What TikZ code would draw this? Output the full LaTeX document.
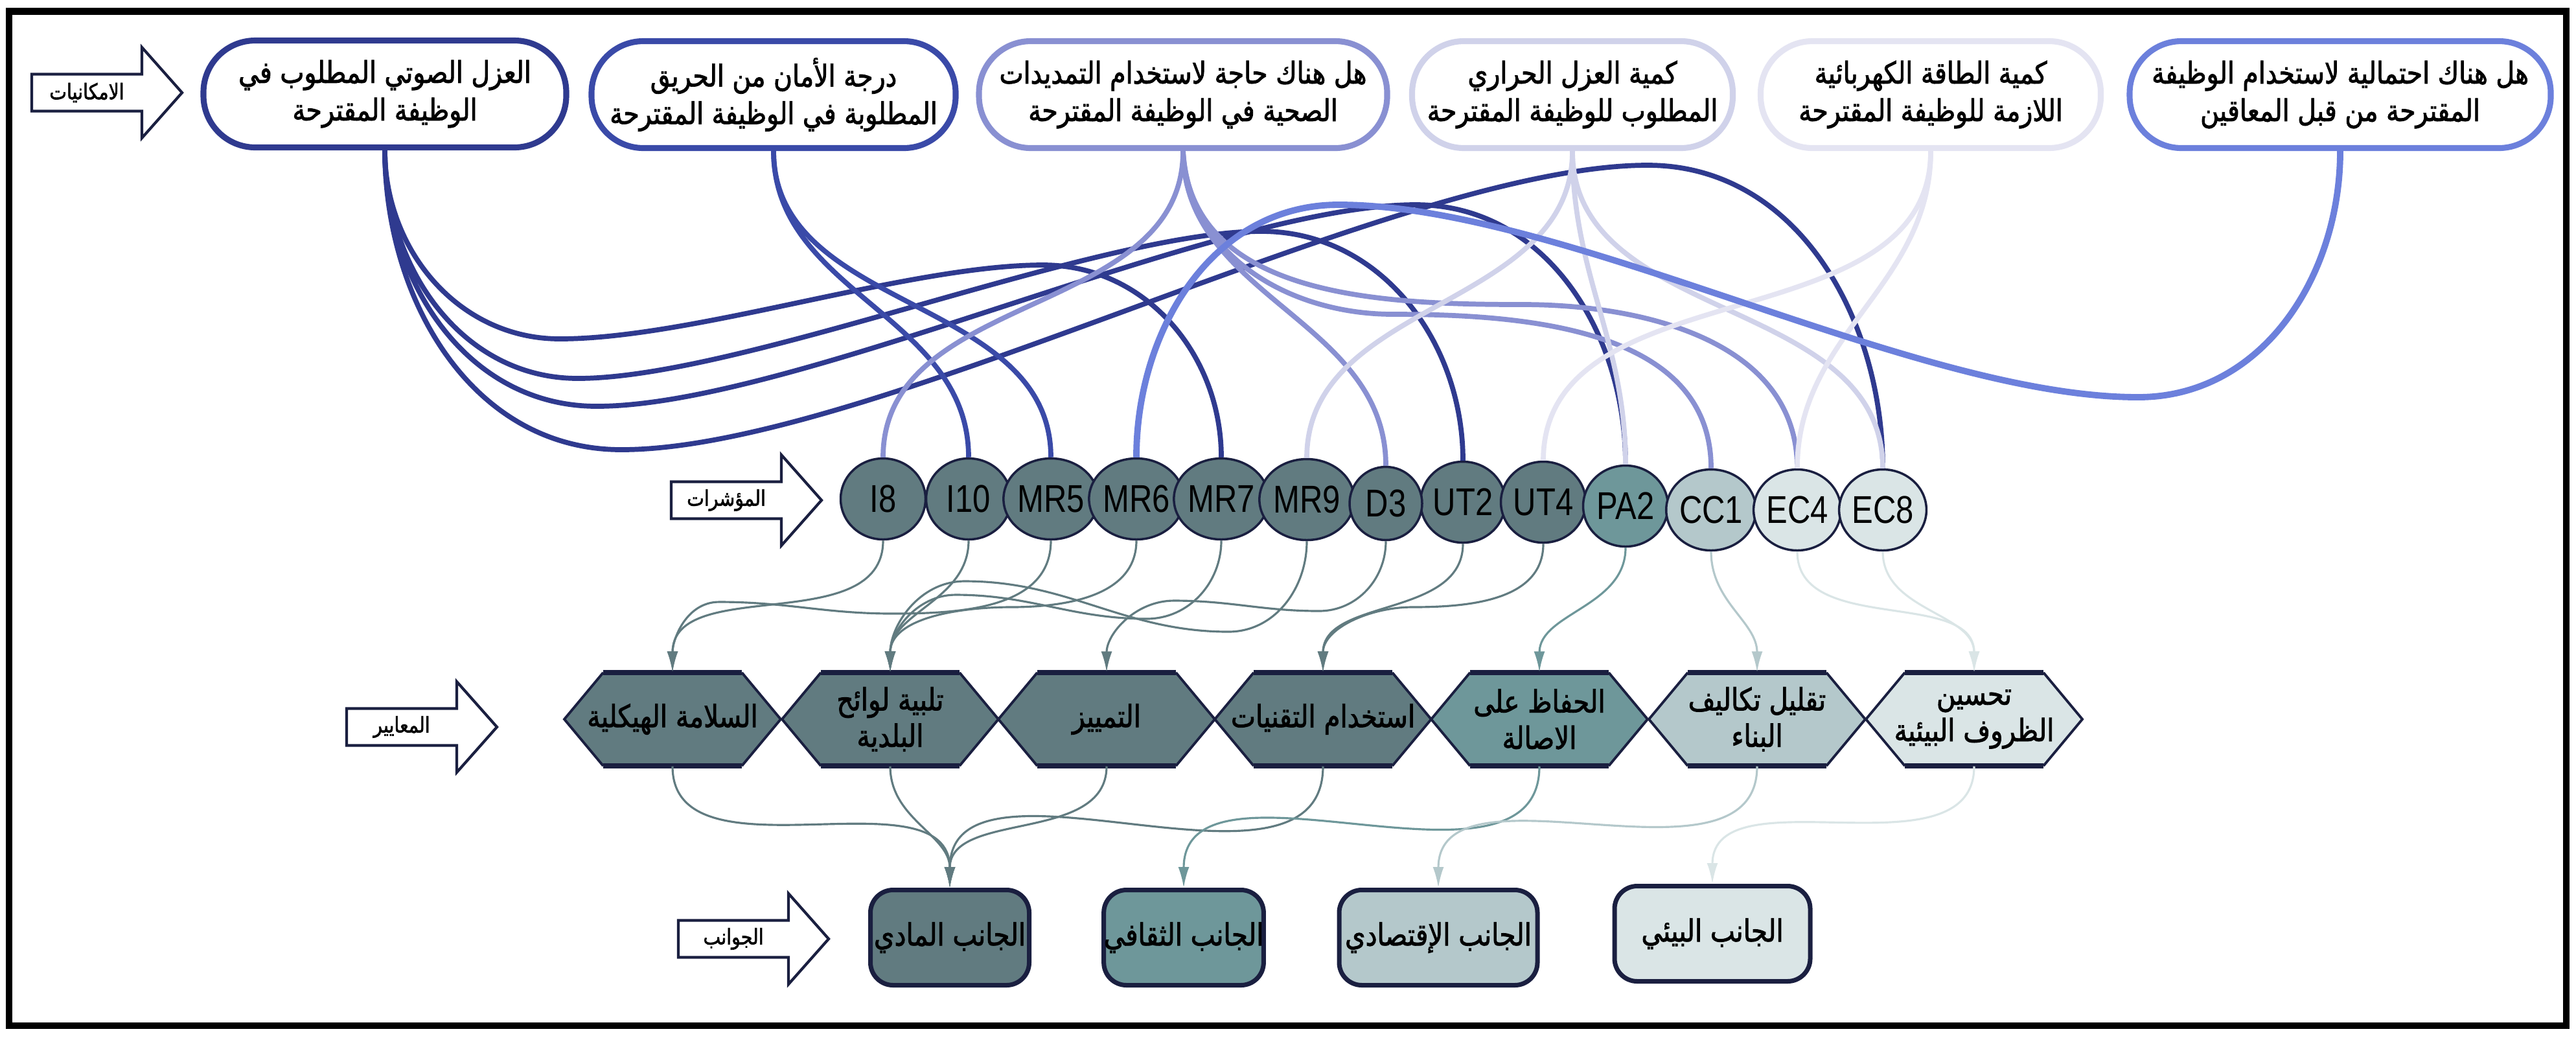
\documentclass[tikz,border=0pt]{standalone}
\usepackage{fontspec}
\setmainfont{Liberation Sans}
\newfontfamily\arabicfont[Script=Arabic,FakeStretch=0.85,FakeBold=1.8]{DejaVu Sans}
\newfontfamily\codefont[FakeStretch=0.82]{Liberation Sans}
\TeXXeTstate=1
\usetikzlibrary{arrows.meta,shapes.geometric}
\newcommand{\ar}[1]{{\arabicfont\beginR #1\endR}}

\definecolor{navyA}{HTML}{2F3A8F}
\definecolor{navyB}{HTML}{3A4AA8}
\definecolor{lavA}{HTML}{8990D2}
\definecolor{lavB}{HTML}{D0D2EA}
\definecolor{lavC}{HTML}{E4E4F2}
\definecolor{cornfl}{HTML}{6C80DC}
\definecolor{slate}{HTML}{617B80}
\definecolor{tealB}{HTML}{6E979A}
\definecolor{greyB}{HTML}{B4C8CB}
\definecolor{greyC}{HTML}{DAE5E6}
\definecolor{edge}{HTML}{1A1F40}

\begin{document}
\begin{tikzpicture}[
  topbox/.style={draw=#1,line width=2.6pt,rounded corners=0.8cm,minimum height=1.65cm,fill=white,align=center,inner sep=0pt,font=\fontsize{13.2}{16.5}\selectfont},
  indic/.style={ellipse,draw=edge,line width=1pt,fill=#1,minimum width=1.31cm,minimum height=1.25cm,inner sep=0pt,font=\codefont\fontsize{17}{18}\selectfont},
  crit/.style={minimum width=2.14cm,minimum height=1.44cm,align=center,inner sep=0pt,font=\fontsize{13.5}{16}\selectfont},
  aspect/.style={draw=edge,line width=2pt,fill=#1,rounded corners=0.35cm,minimum height=1.47cm,inner sep=0pt,font=\fontsize{13.5}{16}\selectfont},
  tag/.style={font=\fontsize{9.5}{11}\selectfont},
  feed/.style={draw=#1,line width=2.2pt},
  link/.style={draw=#1,line width=0.9pt,-{Latex[length=3.2mm,width=1.7mm]}},
]
  \useasboundingbox (0,0) rectangle (39.76,-16.01);
  \draw[line width=3pt] (0.14,-0.175) rectangle (39.61,-15.83);

  % block arrows on the left
  \foreach \n/\x/\y/\t in {imk/0.49/-1.43/الامكانيات, mua/10.36/-7.72/المؤشرات, mea/5.35/-11.22/المعايير, jaw/10.47/-14.49/الجوانب} {
    \draw[edge,line width=1.2pt,fill=white] (\x,\y+0.285) -- ++(1.70,0) -- ++(0,0.415) -- (\x+2.32,\y) -- (\x+1.70,\y-0.70) -- ++(0,0.415) -- (\x,\y-0.285) -- cycle;
    \node[tag] (\n) at (\x+0.85,\y) {\ar{\t}};
  }

  % possibilities
  \node[topbox=navyA,minimum width=5.60cm] (b1) at (5.94,-1.45) {\ar{العزل الصوتي المطلوب في}\\\ar{الوظيفة المقترحة}};
  \node[topbox=navyB,minimum width=5.62cm] (b2) at (11.94,-1.46) {\ar{درجة الأمان من الحريق}\\\ar{المطلوبة في الوظيفة المقترحة}};
  \node[topbox=lavA,minimum width=6.30cm] (b3) at (18.26,-1.46) {\ar{هل هناك حاجة لاستخدام التمديدات}\\\ar{الصحية في الوظيفة المقترحة}};
  \node[topbox=lavB,minimum width=4.95cm] (b4) at (24.27,-1.46) {\ar{كمية العزل الحراري}\\\ar{المطلوب للوظيفة المقترحة}};
  \node[topbox=lavC,minimum width=5.25cm] (b5) at (29.80,-1.46) {\ar{كمية الطاقة الكهربائية}\\\ar{اللازمة للوظيفة المقترحة}};
  \node[topbox=cornfl,minimum width=6.50cm] (b6) at (36.12,-1.46) {\ar{هل هناك احتمالية لاستخدام الوظيفة}\\\ar{المقترحة من قبل المعاقين}};

  % indicators
  \foreach \n/\x/\y/\c in {I8/13.63/-7.70/slate, I10/14.95/-7.70/slate, MR5/16.22/-7.70/slate, MR6/17.54/-7.70/slate, MR7/18.85/-7.70/slate, MR9/20.17/-7.71/slate, UT2/22.58/-7.75/slate, UT4/23.82/-7.75/slate, PA2/25.09/-7.81/tealB, CC1/26.41/-7.87/greyB, EC4/27.74/-7.87/greyC, EC8/29.06/-7.87/greyC}
    \node[indic=\c] (\n) at (\x,\y) {\n};
  \node[indic=slate,minimum width=1.12cm,minimum height=1.13cm] (D3) at (21.39,-7.77) {D3};

  % criteria
  \foreach \n/\x/\c/\t in {H1/10.38/slate/{\ar{السلامة الهيكلية}}, H2/13.74/slate/{\ar{تلبية لوائح}\\\ar{البلدية}}, H3/17.08/slate/{\ar{التمييز}}, H4/20.42/slate/{\ar{استخدام التقنيات}}, H5/23.76/tealB/{\ar{الحفاظ على}\\\ar{الاصالة}}, H6/27.12/greyB/{\ar{تقليل تكاليف}\\\ar{البناء}}, H7/30.47/greyC/{\ar{تحسين}\\\ar{الظروف البيئية}}} {
    \fill[\c] (\x-1.67,-11.10) -- (\x-1.07,-10.38) -- (\x+1.07,-10.38) -- (\x+1.67,-11.10) -- (\x+1.07,-11.82) -- (\x-1.07,-11.82) -- cycle;
    \draw[edge,line width=1.1pt] (\x-1.07,-10.38) -- (\x-1.67,-11.10) -- (\x-1.07,-11.82) (\x+1.07,-10.38) -- (\x+1.67,-11.10) -- (\x+1.07,-11.82);
    \draw[edge,line width=2.4pt] (\x-1.07,-10.38) -- (\x+1.07,-10.38) (\x-1.07,-11.82) -- (\x+1.07,-11.82);
    \node[crit] (\n) at (\x,-11.10) {\t};
  }

  % aspects
  \node[aspect=slate,minimum width=2.45cm] (A1) at (14.66,-14.47) {\ar{الجانب المادي}};
  \node[aspect=tealB,minimum width=2.42cm] (A2) at (18.27,-14.47) {\ar{الجانب الثقافي}};
  \node[aspect=greyB,minimum width=3.06cm] (A3) at (22.20,-14.47) {\ar{الجانب الإقتصادي}};
  \node[aspect=greyC,minimum width=3.02cm] (A4) at (26.43,-14.41) {\ar{الجانب البيئي}};

  % possibilities -> indicators
  \draw[feed=navyA] (b1.south) to[out=-90,in=180] (8.64,-5.23) to[out=0,in=180,looseness=0.7] (16.10,-4.09) to[out=0,in=90] (MR7.north);
  \draw[feed=navyA] (b1.south) to[out=-90,in=180] (8.92,-5.84) to[out=0,in=180,looseness=0.6] (19.47,-3.57) to[out=0,in=90] (UT2.north);
  \draw[feed=navyA] (b1.south) to[out=-90,in=180] (9.21,-6.27) to[out=0,in=180,looseness=0.6] (21.85,-3.16) to[out=0,in=90] (PA2.north);
  \draw[feed=navyA] (b1.south) to[out=-90,in=180] (9.59,-6.94) to[out=0,in=180,looseness=0.6] (25.43,-2.55) to[out=0,in=90] (EC8.north);
  \draw[feed=navyB] (b2.south) to[out=-90,in=90] (I10.north);
  \draw[feed=navyB] (b2.south) to[out=-90,in=90] (MR5.north);
  \draw[feed=lavA] (b3.south) to[out=-90,in=90] (I8.north);
  \draw[feed=lavA] (b3.south) to[out=-90,in=90] (D3.north);
  \draw[feed=lavA] (b3.south) to[out=-87,in=180] (21.5,-4.85) to[out=0,in=90] (CC1.north);
  \draw[feed=lavA] (b3.south) to[out=-87,in=180] (23.5,-4.70) to[out=0,in=90] (EC4.north);
  \draw[feed=lavB] (b4.south) to[out=-90,in=90] (MR9.north);
  \draw[feed=lavB] (b4.south) to[out=-90,in=90] (PA2.north);
  \draw[feed=lavB] (b4.south) to[out=-90,in=90] (EC8.north);
  \draw[feed=lavC] (b5.south) to[out=-90,in=90] (UT4.north);
  \draw[feed=lavC] (b5.south) to[out=-90,in=90] (EC4.north);
  \draw[feed=cornfl,line width=2.8pt] (b6.south) to[out=-90,in=0] (33.0,-6.13) to[out=180,in=0,looseness=0.7] (20.66,-3.16) to[out=180,in=90] (MR6.north);

  % indicators -> criteria
  \draw[link=slate] (I8.south) to[out=-90,in=90] (H1.north);
  \draw[link=slate] (MR5.south) to[out=-90,in=0] (13.77,-9.47) to[out=180,in=0] (11.10,-9.29) to[out=180,in=90] (H1.north);
  \draw[link=slate] (I10.south) to[out=-90,in=90] (H2.north);
  \draw[link=slate] (MR6.south) to[out=-90,in=0] (15.6,-9.37) to[out=180,in=90] (H2.north);
  \draw[link=slate] (MR7.south) to[out=-90,in=0] (17.7,-9.55) to[out=180,in=0] (14.75,-9.18) to[out=180,in=90] (H2.north);
  \draw[link=slate] (MR9.south) to[out=-90,in=0] (18.96,-9.75) to[out=180,in=0] (14.89,-8.97) to[out=180,in=90] (H2.north);
  \draw[link=slate] (D3.south) to[out=-90,in=0] (20.36,-9.43) to[out=180,in=0] (18.12,-9.27) to[out=180,in=90] (H3.north);
  \draw[link=slate] (UT2.south) to[out=-90,in=90] (H4.north);
  \draw[link=slate] (UT4.south) to[out=-90,in=0] (21.8,-9.37) to[out=180,in=90] (H4.north);
  \draw[link=tealB] (PA2.south) to[out=-90,in=90] (H5.north);
  \draw[link=greyB] (CC1.south) to[out=-90,in=90] (H6.north);
  \draw[link=greyC] (EC4.south) to[out=-90,in=90] (H7.north);
  \draw[link=greyC] (EC8.south) to[out=-90,in=90] (H7.north);

  % criteria -> aspects
  \foreach \a/\b/\c in {H1/A1/slate, H2/A1/slate, H3/A1/slate, H4/A1/slate, H5/A2/tealB, H6/A3/greyB, H7/A4/greyC}
    \draw[link=\c] (\a.south) to[out=-90,in=90] (\b.north);
\end{tikzpicture}
\end{document}
